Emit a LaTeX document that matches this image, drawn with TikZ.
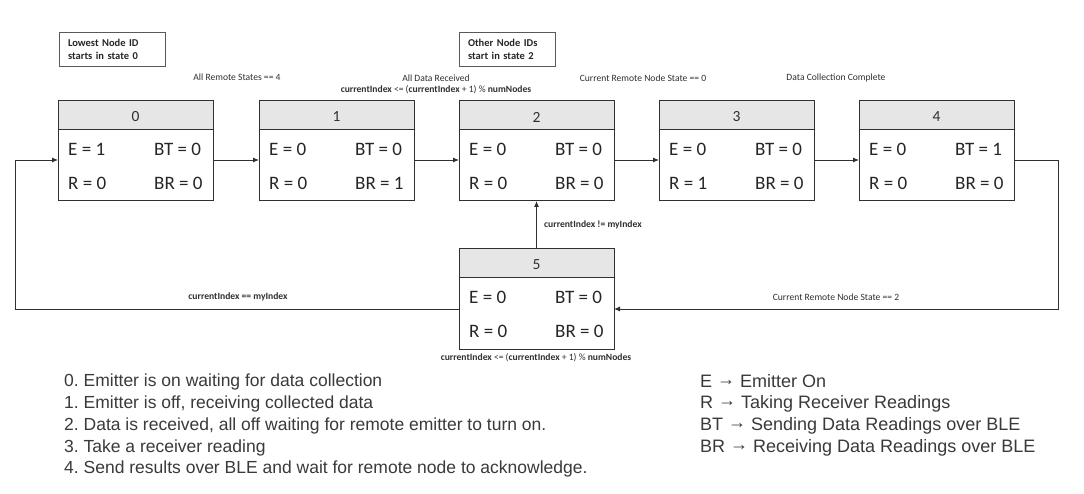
\documentclass[tikz,border=0pt]{standalone}
\usepackage{fontspec}
\setmainfont{Carlito}
\newfontfamily\arialf{Liberation Sans}
\usetikzlibrary{arrows.meta}
\definecolor{ln}{HTML}{303030}
\definecolor{hd}{HTML}{E6E6E6}
\definecolor{tx}{HTML}{3A3A3A}
\frenchspacing
\newcommand\stbox[8]{%
  \fill[hd] (#2,#3) rectangle ++(155,28);
  \draw[ln,line width=0.8pt] (#2,#3+28) -- ++(155,0);
  \node[box] (#1) at (#2+77.5,#3+50) {};
  \node[hnum] (#1h) at (#2+77.5,#3+16) {#4};
  \node[val] (#1e) at (#2+10,#3+48) {E = #5};
  \node[val] (#1bt) at (#2+96,#3+48) {BT = #6};
  \node[val] (#1r) at (#2+10,#3+82) {R = #7};
  \node[val] (#1br) at (#2+96,#3+82) {BR = #8};
}
\newcommand\rarr{\raisebox{2.2pt}{→}}
\begin{document}
\begin{tikzpicture}[x=1pt,y=-1pt,
  box/.style={draw=ln,line width=1pt,minimum width=155pt,minimum height=100pt,inner sep=0,outer sep=0},
  hnum/.style={font=\fontsize{15.5}{18}\selectfont,inner sep=0,text=ln},
  val/.style={font=\fontsize{19}{22}\selectfont,anchor=west,inner sep=0,text=black!85},
  lbl/.style={font=\fontsize{9.6}{11}\selectfont,text=ln,inner sep=0},
  blbl/.style={font=\bfseries\fontsize{9.6}{11}\selectfont,text=ln,inner sep=0},
  note/.style={draw=ln!80,line width=0.6pt,minimum height=34pt,inner xsep=9pt,inner ysep=0pt,
    font=\bfseries\fontsize{10.5}{13}\selectfont,align=left,text=black!85},
  arr/.style={draw=ln,line width=0.9pt,-{Latex[length=6pt,width=5pt]}},
  list/.style={font=\arialf\fontsize{17.5}{21.75}\selectfont,text=tx,align=left,anchor=north west,inner sep=0}
]
\useasboundingbox (0,0) rectangle (1084,494);
\fill[white] (0,0) rectangle (1084,494);

\stbox{s0}{58}{101}{0}{1}{0}{0}{0}
\stbox{s1}{259}{101}{1}{0}{0}{0}{1}
\stbox{s2}{459}{101}{2}{0}{0}{0}{0}
\stbox{s3}{659}{101}{3}{0}{0}{1}{0}
\stbox{s4}{859}{101}{4}{0}{1}{0}{0}
\stbox{s5}{459}{249}{5}{0}{0}{0}{0}

\node[note,text width=88pt] (n1) at (112,49) {Lowest Node ID\\starts in state 0};
\node[note,text width=78pt] (n2) at (507,49) {Other Node IDs\\start in state 2};

\draw[arr] ([yshift=-9pt]s0.east) -- ([yshift=-9pt]s1.west);
\draw[arr] ([yshift=-9pt]s1.east) -- ([yshift=-9pt]s2.west);
\draw[arr] ([yshift=-9pt]s2.east) -- ([yshift=-9pt]s3.west);
\draw[arr] ([yshift=-9pt]s3.east) -- ([yshift=-9pt]s4.west);
\draw[arr] (s5.north) -- (s2.south);

\coordinate (la) at (15,309);
\coordinate (lb) at (15,160);
\coordinate (ra) at (1058,160);
\coordinate (rb) at (1058,309);
\draw[arr] ([yshift=-10pt]s5.west) -- (la) -- (lb) -- ([yshift=-9pt]s0.west);
\draw[arr] ([yshift=-9pt]s4.east) -- (ra) -- (rb) -- ([yshift=-10pt]s5.east);

\node[lbl] (t01) at (237,77) {All Remote States == 4};
\node[lbl] (t12) at (436,78) {All Data Received};
\node[lbl] (t12b) at (436,90) {\textbf{currentIndex} <= (\textbf{currentIndex} + 1) \% \textbf{numNodes}};
\node[lbl] (t23) at (643,78) {Current Remote Node State == 0};
\node[lbl] (t34) at (836,78) {Data Collection Complete};
\node[blbl,anchor=west] (t52) at (544,225) {currentIndex != myIndex};
\node[blbl] (t50) at (238,297) {currentIndex == myIndex};
\node[lbl] (t45) at (836,297) {Current Remote Node State == 2};
\node[lbl] (t5b) at (536,358) {\textbf{currentIndex} <= (\textbf{currentIndex} + 1) \% \textbf{numNodes}};

\node[list] (desc) at (64,374) {0. Emitter is on waiting for data collection\\
1. Emitter is off, receiving collected data\\
2. Data is received, all off waiting for remote emitter to turn on.\\
3. Take a receiver reading\\
4. Send results over BLE and wait for remote node to acknowledge.};
\node[list,font=\arialf\fontsize{18}{21.75}\selectfont] (legend) at (700,374) {E \rarr{} Emitter On\\
R \rarr{} Taking Receiver Readings\\
BT \rarr{} Sending Data Readings over BLE\\
BR \rarr{} Receiving Data Readings over BLE};
\end{tikzpicture}
\end{document}
